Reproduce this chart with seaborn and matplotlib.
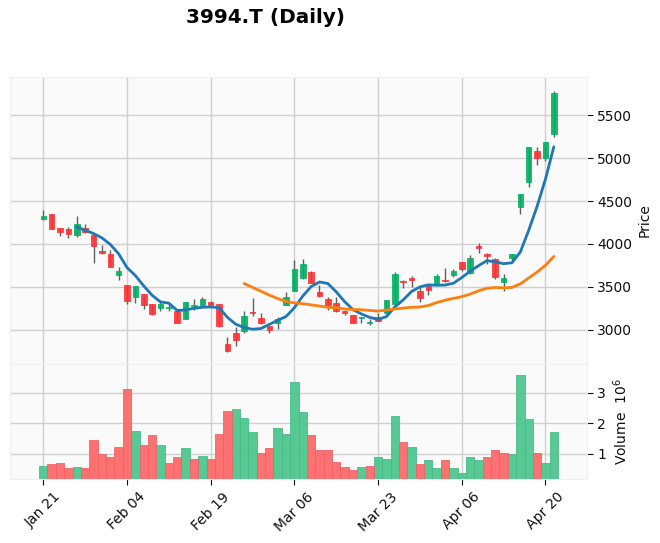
import numpy as np
import pandas as pd
import matplotlib
matplotlib.use("Agg")
import matplotlib.pyplot as plt
import seaborn as sns

# ---- data ----
opens = [4286, 4348, 4181, 4173, 4107, 4181, 4107, 3917, 3886, 3641,
         3521, 3385, 3416, 3299, 3256, 3256, 3221, 3128, 3272, 3283,
         3322, 3299, 2833, 2957, 2981, 3210, 3136, 3043, 3074, 3283,
         3447, 3598, 3672, 3439, 3357, 3307, 3214, 3167, 3132, 3078,
         3144, 3190, 3295, 3567, 3602, 3451, 3513, 3536, 3579, 3637,
         3789, 3657, 3979, 3886, 3824, 3559, 3839, 4434, 4717, 5082,
         5005, 5277]
highs = [4395, 4348, 4181, 4193, 4325, 4232, 4115, 3987, 3928, 3734,
         3521, 3509, 3416, 3299, 3326, 3299, 3221, 3322, 3357, 3385,
         3330, 3299, 2918, 3027, 3218, 3373, 3198, 3043, 3144, 3435,
         3808, 3824, 3684, 3524, 3385, 3377, 3229, 3167, 3144, 3120,
         3190, 3346, 3676, 3579, 3625, 3493, 3513, 3645, 3715, 3703,
         3789, 3866, 4006, 3894, 3831, 3645, 3882, 4581, 5125, 5133,
         5187, 5786]
lows = [4278, 4177, 4092, 4064, 4076, 4123, 3773, 3878, 3734, 3579,
        3295, 3315, 3237, 3175, 3221, 3218, 3074, 3128, 3229, 3268,
        3275, 3027, 2744, 2814, 2957, 3159, 3062, 2957, 3004, 3283,
        3447, 3590, 3540, 3385, 3229, 3210, 3167, 3074, 3074, 3054,
        3100, 3180, 3285, 3482, 3501, 3326, 3404, 3530, 3560, 3618,
        3688, 3650, 3897, 3761, 3587, 3455, 3793, 4348, 4667, 4915,
        4966, 5242]
closes = [4325, 4177, 4142, 4111, 4232, 4142, 3979, 3890, 3734, 3684,
          3338, 3509, 3291, 3186, 3299, 3264, 3082, 3322, 3283, 3357,
          3283, 3043, 2755, 2884, 3159, 3190, 3082, 2992, 3128, 3377,
          3703, 3761, 3548, 3396, 3287, 3218, 3190, 3082, 3144, 3086,
          3105, 3346, 3645, 3556, 3579, 3373, 3462, 3625, 3567, 3684,
          3703, 3831, 3948, 3862, 3610, 3600, 3882, 4581, 5125, 5005,
          5187, 5766]
volumes_m = [0.58, 0.67, 0.70, 0.53, 0.57, 0.53, 1.43, 1.00, 0.87, 1.20,
             3.13, 1.74, 1.27, 1.60, 1.27, 0.70, 0.90, 1.17, 0.83, 0.93,
             0.83, 1.63, 2.40, 2.47, 2.17, 1.70, 1.03, 1.17, 1.83, 1.63,
             3.37, 2.37, 1.60, 1.10, 1.13, 0.73, 0.57, 0.47, 0.57, 0.60,
             0.87, 0.83, 2.23, 1.37, 1.20, 0.67, 0.77, 0.53, 0.80, 0.53,
             0.37, 0.87, 0.77, 0.90, 1.13, 1.03, 1.00, 3.60, 2.13, 1.03,
             0.70, 1.71]
tick_labels = ["Jan 21", "Feb 04", "Feb 19", "Mar 06", "Mar 23", "Apr 06", "Apr 20"]
tick_positions = [0, 10, 20, 30, 40, 50, 60]
mav_windows = [5, 25]

title = "3994.T (Daily)"

# ---- styling ----
sns.set_style("whitegrid", {"axes.facecolor": "#fafafa", "grid.color": "#d0d0d0",
                            "axes.edgecolor": "#f0f0f0"})
plt.rcParams['font.family'] = ['DejaVu Sans']

UP, DOWN = "#00b060", "#fe3032"
VUP, VDOWN = "#4dc790", "#fd6b6c"
WICK = "#606060"

df = pd.DataFrame({"Open": opens, "High": highs, "Low": lows, "Close": closes,
                   "Volume": volumes_m})
df["idx"] = np.arange(len(df))
prev = df["Close"].shift(1)
df["vdir"] = np.where((df["Close"] >= prev) | prev.isna(), "up", "down")

fig = plt.figure(figsize=(6.6, 5.43), dpi=100)
fig.patch.set_facecolor("white")
ax = fig.add_axes([0.01515, 0.3291, 0.8742, 0.5296])
axv = fig.add_axes([0.01515, 0.1173, 0.8742, 0.2118], sharex=ax)

# candles
body_w = 0.66
for i, r in df.iterrows():
    up = r["Close"] >= r["Open"]
    c = UP if up else DOWN
    ax.vlines(r["idx"], r["Low"], r["High"], color=WICK, linewidth=1.0, zorder=2)
    bottom = min(r["Open"], r["Close"])
    h = max(abs(r["Close"] - r["Open"]), 4)
    ax.bar(r["idx"], h, bottom=bottom, width=body_w, color=c, edgecolor=c,
           linewidth=0.6, alpha=0.9, zorder=3)

# moving averages
ma_colors = ["#1f77b4", "#ff7f0e"]
for w, col in zip(mav_windows, ma_colors):
    ma = df["Close"].rolling(w).mean()
    sns.lineplot(x=df["idx"], y=ma, ax=ax, color=col, linewidth=2.0, zorder=4)

# volume bars
sns.barplot(data=df, x="idx", y="Volume", hue="vdir", palette={"up": VUP, "down": VDOWN},
            dodge=False, width=1.0, native_scale=True, legend=False, ax=axv,
            saturation=1, linewidth=0.6, alpha=0.95, zorder=3)
for patch in axv.patches:
    fc = patch.get_facecolor()
    patch.set_edgecolor((fc[0] * 0.93, fc[1] * 0.93, fc[2] * 0.93, 1))

ax.set_xlim(-3.98, 64.96)
ax.set_ylim(2597, 5950)
axv.set_ylim(0.15, 3.94)

for a in (ax, axv):
    a.set_facecolor("#fafafa")
    a.grid(True, color="#d0d0d0", linewidth=1.0)
    a.set_axisbelow(True)
    a.yaxis.tick_right()
    a.yaxis.set_label_position("right")
    a.tick_params(axis="y", which="both", right=True, left=False, length=4,
                  color="#101010", labelcolor="#101010", labelsize=10)
    for s in a.spines.values():
        s.set_color("#f0f0f0")

ax.set_yticks([3000, 3500, 4000, 4500, 5000, 5500])
axv.set_yticks([1, 2, 3])
axv.set_yticklabels(["1", "2", "3"])
ax.set_ylabel("Price", fontsize=10, color="#101010")
axv.set_ylabel("Volume  $10^6$", fontsize=10, color="#101010")
ax.set_xlabel("")
axv.set_xlabel("")

axv.set_xticks(tick_positions)
axv.set_xticklabels(tick_labels, rotation=45, ha="center", fontsize=10, color="#101010")
axv.tick_params(axis="x", bottom=True, length=4, color="#101010")
ax.tick_params(axis="x", bottom=False, labelbottom=False)

fig.suptitle(title, x=0.402, y=0.985, fontsize=14.4, fontweight="bold", color="black")

fig.savefig("out.png", dpi=100)
